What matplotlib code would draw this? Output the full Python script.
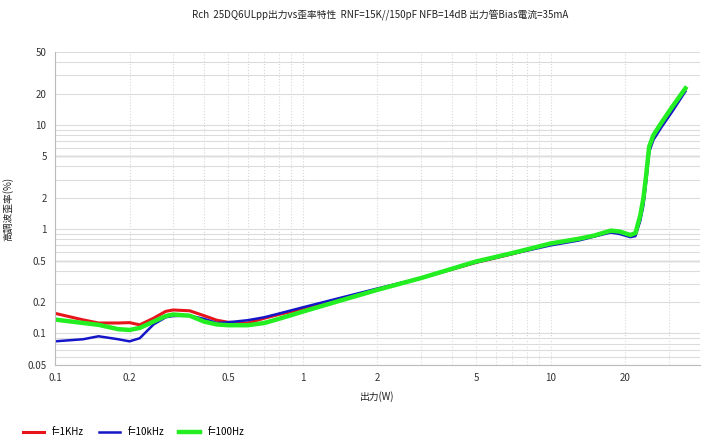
import numpy as np
import matplotlib
matplotlib.use("Agg")
import matplotlib.pyplot as plt
from matplotlib.ticker import LogLocator, FixedLocator, FixedFormatter, NullFormatter

plt.rcParams['font.family'] = ['Noto Sans CJK JP', 'DejaVu Sans']

# Output power (W)
power = [0.1, 0.13, 0.15, 0.18, 0.2, 0.22, 0.25, 0.28, 0.3, 0.35, 0.4, 0.45, 0.5,
         0.6, 0.7, 0.8, 1, 1.4, 2, 3, 5, 7, 10, 13, 15, 17.5, 19, 21, 22, 23,
         23.7, 24.3, 25, 26, 28, 31, 35]

# THD (%) per test frequency
thd_1k = [0.156, 0.135, 0.126, 0.126, 0.127, 0.121, 0.14, 0.163, 0.168, 0.165, 0.148, 0.134, 0.128,
          0.126, 0.14, 0.152, 0.172, 0.21, 0.265, 0.34, 0.48, 0.58, 0.72, 0.8, 0.86, 0.96, 0.93, 0.87, 0.9, 1.3,
          1.9, 3.2, 6.0, 8.0, 10.5, 14.5, 22]
thd_10k = [0.084, 0.088, 0.094, 0.088, 0.084, 0.09, 0.122, 0.143, 0.147, 0.148, 0.138, 0.126, 0.128,
           0.134, 0.143, 0.155, 0.178, 0.218, 0.27, 0.34, 0.48, 0.58, 0.7, 0.78, 0.85, 0.93, 0.9, 0.84, 0.86, 1.2,
           1.7, 2.8, 5.5, 7.2, 9.5, 13.5, 21]
thd_100 = [0.136, 0.126, 0.121, 0.11, 0.108, 0.113, 0.13, 0.147, 0.152, 0.148, 0.13, 0.122, 0.12,
           0.12, 0.126, 0.138, 0.162, 0.205, 0.262, 0.34, 0.49, 0.59, 0.73, 0.81, 0.87, 0.97, 0.95, 0.88, 0.92, 1.35,
           2.0, 3.3, 6.2, 8.0, 10.5, 15, 22.5]

xticks = [0.1, 0.2, 0.5, 1, 2, 5, 10, 20]
xticklabels = ['0.1', '0.2', '0.5', '1', '2', '5', '10', '20']
yticks = [0.05, 0.1, 0.2, 0.5, 1, 2, 5, 10, 20, 50]
yticklabels = ['0.05', '0.1', '0.2', '0.5', '1', '2', '5', '10', '20', '50']

fig = plt.figure(figsize=(7.04, 4.46), dpi=100)
ax = fig.add_axes([0.078, 0.182, 0.916, 0.701])

ax.plot(power, thd_1k, color='#e8141c', lw=2.2, label='f=1KHz')
ax.plot(power, thd_10k, color='#1414c8', lw=1.8, label='f=10kHz')
ax.plot(power, thd_100, color='#22ee22', lw=3.2, label='f=100Hz')

ax.set_xscale('log')
ax.set_yscale('log')
ax.set_xlim(0.1, 40)
ax.set_ylim(0.05, 50)

ax.xaxis.set_major_locator(FixedLocator(xticks))
ax.xaxis.set_major_formatter(FixedFormatter(xticklabels))
ax.xaxis.set_minor_locator(LogLocator(base=10, subs=np.arange(1, 10)))
ax.xaxis.set_minor_formatter(NullFormatter())
ax.yaxis.set_major_locator(FixedLocator(yticks))
ax.yaxis.set_major_formatter(FixedFormatter(yticklabels))
ax.yaxis.set_minor_locator(LogLocator(base=10, subs=np.arange(1, 10)))
ax.yaxis.set_minor_formatter(NullFormatter())

ax.grid(True, which='both', axis='y', color='#dcdcdc', lw=0.8, ls='-')
ax.grid(True, which='both', axis='x', color='#d8d8d8', lw=0.8, ls=':')
for v in [0.5, 5]:
    ax.axhline(v, color='#b8b8b8', lw=1.0, zorder=0.5)
ax.tick_params(which='both', length=0, labelsize=7, colors='#333333', pad=6)

for s in ['top', 'right']:
    ax.spines[s].set_visible(False)
for s in ['left', 'bottom']:
    ax.spines[s].set_color('#bbbbbb')

fig.text(0.54, 0.965, 'Rch  25DQ6ULpp出力vs歪率特性  RNF=15K//150pF NFB=14dB 出力管Bias電流=35mA',
         ha='center', va='center', fontsize=7, color='#222222')
ax.set_xlabel('出力(W)', fontsize=7, color='#222222', labelpad=6)
ax.set_ylabel('高調波歪率(%)', fontsize=7, color='#222222', labelpad=10)

fig.legend(loc='lower left', bbox_to_anchor=(0.02, 0.0), ncol=3, frameon=False,
           fontsize=7, handlelength=2.2, columnspacing=1.5)

fig.savefig('out.png', dpi=100)
